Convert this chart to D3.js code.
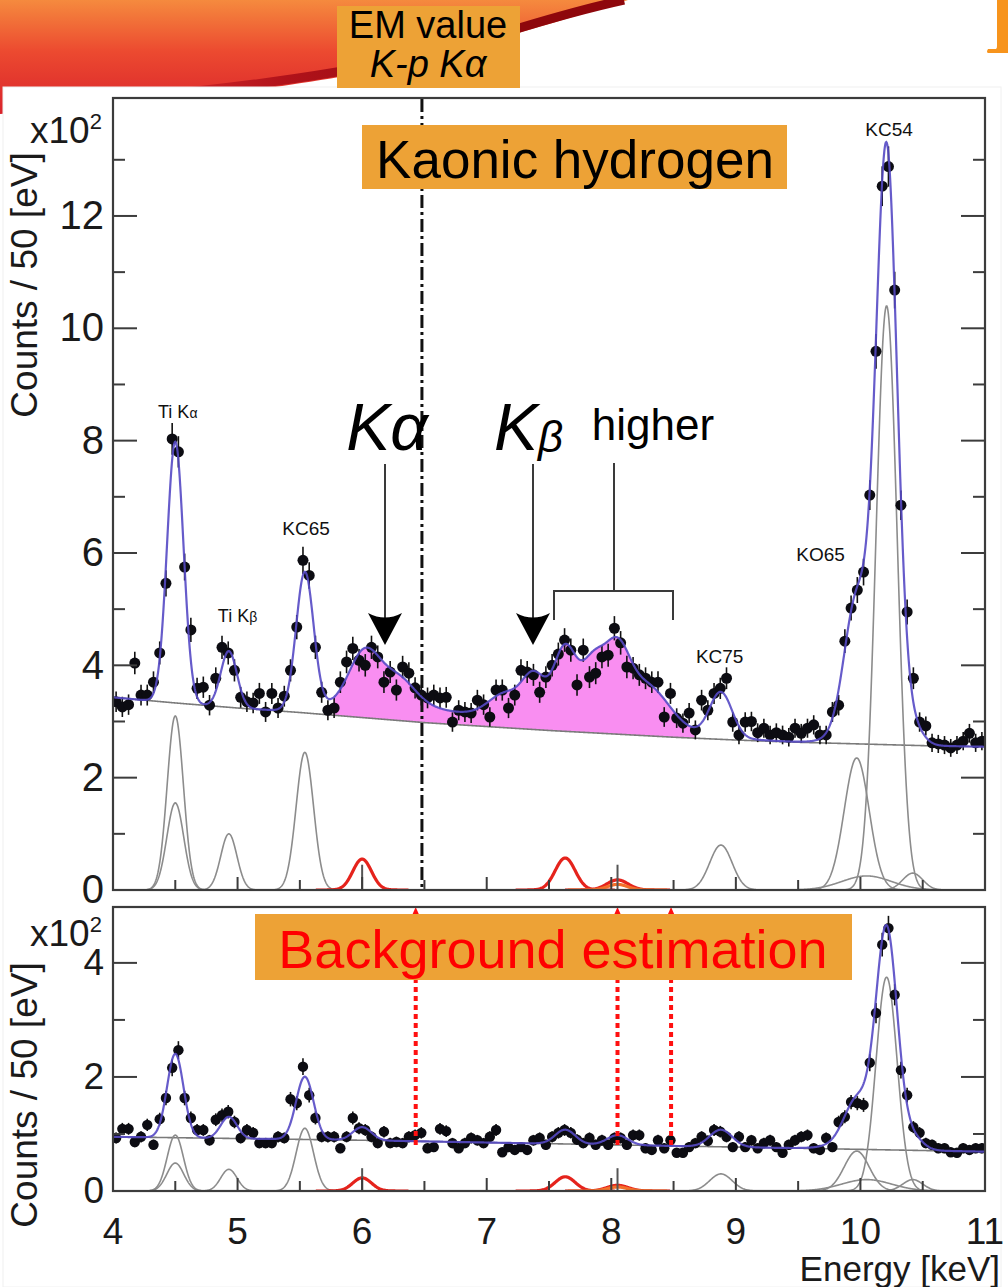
<!DOCTYPE html>
<html>
<head>
<meta charset="utf-8">
<script src="https://cdn.jsdelivr.net/npm/d3@7"></script>
<style>
  body { margin: 0; background: #fff; }
  svg { display: block; }
  text { font-family: "Liberation Sans", Arial, Helvetica, sans-serif; }
</style>
</head>
<body>
<svg id="chart" width="1008" height="1287"></svg>
<script>
// ---------------- data (counts in units of 10^2 per 50 eV bin) ----------------
const energyDomain = [4, 11];
const xMajorTicks = [4, 5, 6, 7, 8, 9, 10, 11];
const xMinorTicks = [4.5, 5.5, 6.5, 7.5, 8.5, 9.5, 10.5];
const yUpperMajor = [0, 2, 4, 6, 8, 10, 12];
const yUpperMinor = [1, 3, 5, 7, 9, 11, 13];
const yLowerMajor = [0, 2, 4];
const yLowerMinor = [1, 3];

// 50 eV bins from 4.0 to 11.0 keV
const binCentres = d3.range(140).map(i => 4.025 + 0.05 * i);

const upperCounts = [
  3.35, 3.26, 3.30, 4.04, 3.47, 3.47, 3.70, 4.22, 5.46, 8.03,
  7.80, 5.75, 4.63, 3.59, 3.61, 3.29, 3.77, 4.32, 4.22, 3.91,
  3.43, 3.35, 3.33, 3.50, 3.17, 3.50, 3.24, 3.45, 3.91, 4.68,
  5.87, 5.60, 4.32, 3.52, 3.20, 3.24, 3.70, 4.06, 4.30, 4.09,
  4.00, 4.32, 4.15, 3.70, 3.88, 3.56, 3.97, 3.86, 3.60, 3.47,
  3.42, 3.47, 3.42, 3.43, 2.99, 3.20, 3.17, 3.15, 3.38, 3.30,
  3.08, 3.56, 3.56, 3.24, 3.47, 3.91, 3.88, 3.83, 3.52, 3.79,
  4.00, 4.20, 4.45, 4.27, 3.65, 4.27, 3.79, 3.86, 4.15, 4.18,
  4.66, 4.40, 3.97, 3.95, 3.83, 3.77, 3.70, 3.70, 3.08, 3.50,
  3.06, 2.97, 3.15, 2.85, 3.38, 3.20, 3.50, 3.59, 3.77, 2.99,
  2.76, 2.99, 3.00, 2.80, 2.88, 2.76, 2.80, 2.76, 2.72, 2.88,
  2.79, 2.88, 2.94, 2.76, 2.76, 3.17, 3.29, 4.43, 5.02, 5.34,
  5.66, 7.03, 9.59, 12.53, 12.88, 10.68, 6.85, 4.95, 3.77, 2.99,
  2.92, 2.62, 2.60, 2.58, 2.53, 2.58, 2.65, 2.79, 2.62, 2.65
];

const lowerCounts = [
  0.93, 1.09, 1.09, 0.86, 0.95, 1.16, 0.81, 1.26, 1.63, 2.16,
  2.47, 1.63, 1.28, 1.07, 1.07, 0.89, 1.25, 1.33, 1.39, 1.21,
  0.93, 1.07, 1.02, 0.84, 0.84, 0.84, 0.95, 0.93, 1.61, 1.54,
  2.18, 1.68, 1.28, 0.95, 0.95, 0.95, 0.75, 0.95, 1.28, 1.10,
  1.07, 0.95, 0.84, 1.04, 0.84, 0.86, 0.84, 0.95, 0.98, 1.02,
  0.75, 0.77, 1.09, 1.05, 0.84, 0.75, 0.84, 0.93, 0.89, 0.84,
  0.95, 1.07, 0.68, 0.77, 0.72, 0.77, 0.72, 0.89, 0.93, 0.81,
  0.95, 1.02, 1.07, 1.02, 0.90, 0.84, 0.93, 0.81, 0.89, 0.81,
  0.93, 0.93, 0.81, 0.98, 0.98, 0.75, 0.72, 0.89, 0.75, 0.89,
  0.67, 0.67, 0.77, 0.84, 0.95, 0.88, 1.07, 1.04, 0.95, 0.77,
  0.95, 0.77, 0.89, 0.75, 0.84, 0.89, 0.77, 0.67, 0.81, 0.89,
  0.95, 0.98, 0.75, 0.72, 0.93, 0.77, 1.21, 1.30, 1.56, 1.54,
  1.51, 2.25, 3.12, 4.32, 4.61, 3.44, 2.12, 1.68, 1.12, 1.02,
  0.84, 0.81, 0.75, 0.75, 0.68, 0.67, 0.75, 0.72, 0.75, 0.75
];

// continuum background
const bgUpperE = [4, 4.5, 5, 5.5, 6, 6.5, 7, 7.5, 8, 8.5, 9, 9.5, 10, 10.5, 11];
const bgUpperY = [3.43, 3.33, 3.24, 3.16, 3.07, 2.98, 2.91, 2.84, 2.78, 2.72, 2.67, 2.63, 2.60, 2.57, 2.55];
const bgLowerE = [4, 5, 6, 7, 8, 9, 10, 11];
const bgLowerY = [0.95, 0.92, 0.89, 0.85, 0.81, 0.77, 0.73, 0.69];

// calibration / kaonic lines: Ti Ka (two parts), Ti Kb, KC65, KC75, KO65, KC54, KC54 tail, 10.4 keV
const greyCentre = [4.50, 4.50, 4.93, 5.54, 8.88, 9.97, 10.21, 10.05, 10.42];
const greySigma = [0.065, 0.068, 0.065, 0.070, 0.090, 0.100, 0.085, 0.200, 0.080];
const greyUpperHeight = [3.10, 1.55, 1.00, 2.45, 0.80, 2.35, 10.40, 0.25, 0.30];
const greyLowerHeight = [0.98, 0.49, 0.38, 1.10, 0.30, 0.70, 3.75, 0.20, 0.20];

// K-p lines
const kpCentre = [6.00, 7.63, 8.05, 8.05];
const kpSigma = [0.075, 0.080, 0.085, 0.080];
const kpUpperHeight = [0.55, 0.57, 0.18, 0.10];
const kpLowerHeight = [0.23, 0.25, 0.10, 0.07];
const kpColour = ["#e5231c", "#e5231c", "#e5231c", "#f3702a"];

// K-p yield inside the signal region of the kaonic hydrogen fit
const kpFitCentre = [6.02, 6.15, 6.30, 7.15, 7.38, 7.50, 7.63, 7.85, 8.04, 8.28];
const kpFitHeight = [0.78, 0.45, 0.30, 0.35, 0.65, 0.30, 1.20, 0.90, 1.10, 0.75];
const kpFitSigma = [0.12, 0.30, 0.12, 0.13, 0.09, 0.70, 0.09, 0.09, 0.10, 0.18];
const signalRange = [5.77, 8.67];

const lineMarkers = [6.00, 8.05];
const emEnergy = 6.48;
const bgEstimateMarkers = [6.43, 8.05, 8.48];

const upperLabels = [
  { t: "KC65", e: 5.55, v: 6.32 },
  { t: "KC75", e: 8.87, v: 4.05 },
  { t: "KO65", e: 9.68, v: 5.85 },
  { t: "KC54", e: 10.23, v: 13.42 }
];

// ---------------- scales ----------------
const svg = d3.select("#chart");
const x = d3.scaleLinear().domain(energyDomain).range([113, 985]);
const yU = d3.scaleLinear().domain([0, 14.1]).range([890, 98]);
const yL = d3.scaleLinear().domain([0, 4.98]).range([1191, 907]);

const bgU = d3.scaleLinear().domain(bgUpperE).range(bgUpperY);
const bgL = d3.scaleLinear().domain(bgLowerE).range(bgLowerY);

const gauss = (e, c, h, s) => h * Math.exp(-((e - c) ** 2) / (2 * s * s));
const sumLines = (e, cs, hs, ss) => d3.sum(cs, (c, i) => gauss(e, c, hs[i], ss[i]));

const fitU = e => bgU(e) + sumLines(e, greyCentre, greyUpperHeight, greySigma)
                          + sumLines(e, kpFitCentre, kpFitHeight, kpFitSigma);
const fitL = e => bgL(e) + sumLines(e, greyCentre, greyLowerHeight, greySigma)
                          + sumLines(e, kpCentre, kpLowerHeight, kpSigma);

const grid = d3.range(4, 11.0001, 0.004);

// ---------------- slide decoration ----------------
const defs = svg.append("defs");
const sg = defs.append("linearGradient").attr("id", "swoosh")
  .attr("x1", 0).attr("y1", 0).attr("x2", 0).attr("y2", 1);
sg.append("stop").attr("offset", "0%").attr("stop-color", "#f58a3e");
sg.append("stop").attr("offset", "45%").attr("stop-color", "#ec4a30");
sg.append("stop").attr("offset", "100%").attr("stop-color", "#d9232b");
const eg = defs.append("linearGradient").attr("id", "swooshEdge")
  .attr("gradientUnits", "userSpaceOnUse").attr("x1", 0).attr("y1", 0).attr("x2", 520).attr("y2", 0);
eg.append("stop").attr("offset", "0%").attr("stop-color", "#d4222a").attr("stop-opacity", 0);
eg.append("stop").attr("offset", "55%").attr("stop-color", "#b0121a");
eg.append("stop").attr("offset", "100%").attr("stop-color", "#8e070c");

svg.append("path")
  .attr("d", "M0,0 H628 C595,11 548,24 505,37 C430,62 300,94 0,114 Z")
  .attr("fill", "url(#swoosh)");
svg.append("path")
  .attr("d", "M0,108 C300,88 430,57 503,33 C545,20 592,7 624,0")
  .attr("fill", "none").attr("stroke", "url(#swooshEdge)").attr("stroke-width", 9);

// top-right bracket
svg.append("path")
  .attr("d", "M997,0 H1008 V53 H988 Q986,52 988,49 H996 Q997,49 997,46 Z")
  .attr("fill", "#f7941d");

// chart sheet
svg.append("rect").attr("x", 3).attr("y", 87).attr("width", 998).attr("height", 1200)
  .attr("fill", "#fff").attr("stroke", "#f0f0f0");

// ---------------- panels ----------------
function clip(id, y0, y1) {
  defs.append("clipPath").attr("id", id).append("rect")
    .attr("x", 113).attr("y", y0).attr("width", 872).attr("height", y1 - y0);
}
clip("clipU", 98, 890);
clip("clipL", 907, 1191);

function components(g, y, heights, sigma, centres, colour, width) {
  centres.forEach((c, i) => {
    const pts = grid.filter(e => Math.abs(e - c) < 5 * sigma[i]);
    g.append("path")
      .datum(pts)
      .attr("fill", "none")
      .attr("stroke", Array.isArray(colour) ? colour[i] : colour)
      .attr("stroke-width", width)
      .attr("d", d3.line().x(e => x(e)).y(e => y(gauss(e, c, heights[i], sigma[i]))));
  });
}

function dataPoints(g, y, counts, radius) {
  const pts = binCentres.map((e, i) => ({ e, v: counts[i] }));
  g.append("g").selectAll("line").data(pts).join("line")
    .attr("x1", d => x(d.e)).attr("x2", d => x(d.e))
    .attr("y1", d => y(d.v + Math.sqrt(d.v) / 10))
    .attr("y2", d => y(d.v - Math.sqrt(d.v) / 10))
    .attr("stroke", "#111").attr("stroke-width", 1.6);
  g.append("g").selectAll("circle").data(pts).join("circle")
    .attr("cx", d => x(d.e)).attr("cy", d => y(d.v)).attr("r", radius)
    .attr("fill", "#0c0c12");
}

function frame(y, top, bottom, yMajor, yMinor) {
  const g = svg.append("g").attr("stroke", "#3c3c3c");
  yMajor.forEach(v => {
    g.append("line").attr("x1", 113).attr("x2", 137).attr("y1", y(v)).attr("y2", y(v)).attr("stroke-width", 2);
    g.append("line").attr("x1", 961).attr("x2", 985).attr("y1", y(v)).attr("y2", y(v)).attr("stroke-width", 2);
  });
  yMinor.forEach(v => {
    g.append("line").attr("x1", 113).attr("x2", 125).attr("y1", y(v)).attr("y2", y(v)).attr("stroke-width", 2);
    g.append("line").attr("x1", 973).attr("x2", 985).attr("y1", y(v)).attr("y2", y(v)).attr("stroke-width", 2);
  });
  xMajorTicks.forEach(e => g.append("line").attr("x1", x(e)).attr("x2", x(e))
    .attr("y1", bottom).attr("y2", bottom - 13).attr("stroke-width", 2));
  xMinorTicks.forEach(e => g.append("line").attr("x1", x(e)).attr("x2", x(e))
    .attr("y1", bottom).attr("y2", bottom - 10).attr("stroke-width", 2));
  g.append("rect").attr("x", 113).attr("y", top).attr("width", 872).attr("height", bottom - top)
    .attr("fill", "none").attr("stroke-width", 2.2);
}

function yAxisText(y, labels, size, titleY, expY) {
  labels.forEach(v => svg.append("text").attr("x", 104).attr("y", y(v) + size * 0.33)
    .attr("text-anchor", "end").attr("font-size", size).attr("fill", "#1a1a1a").text(v));
  svg.append("text")
    .attr("transform", `translate(37,${titleY}) rotate(-90)`)
    .attr("text-anchor", "middle").attr("font-size", 37).attr("fill", "#1a1a1a")
    .text("Counts / 50 [eV]");
  const t = svg.append("text").attr("x", 30).attr("y", expY).attr("font-size", 37).attr("fill", "#1a1a1a");
  t.append("tspan").text("x10");
  t.append("tspan").attr("font-size", 22).attr("dy", -14).text("2");
}

// ---- upper panel: kaonic hydrogen ----
const gu = svg.append("g").attr("clip-path", "url(#clipU)");
const signalGrid = grid.filter(e => e >= signalRange[0] && e <= signalRange[1]);
gu.append("path").datum(signalGrid)
  .attr("fill", "#f98ef1")
  .attr("d", d3.area().x(e => x(e)).y0(e => yU(bgU(e))).y1(e => yU(fitU(e))));
gu.append("path").datum(grid).attr("fill", "none").attr("stroke", "#7a7a7a").attr("stroke-width", 1.6)
  .attr("d", d3.line().x(e => x(e)).y(e => yU(bgU(e))));
components(gu, yU, greyUpperHeight, greySigma, greyCentre, "#8c8c8c", 1.6);
components(gu, yU, kpUpperHeight, kpSigma, kpCentre, kpColour, 3.2);
lineMarkers.forEach(e => gu.append("line").attr("x1", x(e)).attr("x2", x(e))
  .attr("y1", yU(0)).attr("y2", yU(0.45)).attr("stroke", "#555").attr("stroke-width", 2));
dataPoints(gu, yU, upperCounts, 5.5);
gu.append("path").datum(grid).attr("fill", "none").attr("stroke", "#5549c4")
  .attr("stroke-width", 2.2).attr("stroke-opacity", 0.9)
  .attr("d", d3.line().x(e => x(e)).y(e => yU(fitU(e))));
svg.append("line").attr("x1", x(emEnergy)).attr("x2", x(emEnergy)).attr("y1", 99).attr("y2", 890)
  .attr("stroke", "#111").attr("stroke-width", 3).attr("stroke-dasharray", "13,4,3,4");
frame(yU, 98, 890, yUpperMajor, yUpperMinor);
yAxisText(yU, yUpperMajor, 40, 285, 143);

// ---- lower panel: background estimation ----
const gl = svg.append("g").attr("clip-path", "url(#clipL)");
gl.append("path").datum(grid).attr("fill", "none").attr("stroke", "#7a7a7a").attr("stroke-width", 1.6)
  .attr("d", d3.line().x(e => x(e)).y(e => yL(bgL(e))));
components(gl, yL, greyLowerHeight, greySigma, greyCentre, "#8c8c8c", 1.6);
components(gl, yL, kpLowerHeight, kpSigma, kpCentre, kpColour, 3.2);
lineMarkers.forEach(e => gl.append("line").attr("x1", x(e)).attr("x2", x(e))
  .attr("y1", yL(0)).attr("y2", yL(0.4)).attr("stroke", "#555").attr("stroke-width", 2));
dataPoints(gl, yL, lowerCounts, 5.2);
gl.append("path").datum(grid).attr("fill", "none").attr("stroke", "#5549c4")
  .attr("stroke-width", 2.2).attr("stroke-opacity", 0.9)
  .attr("d", d3.line().x(e => x(e)).y(e => yL(fitL(e))));
bgEstimateMarkers.forEach(e => {
  svg.append("line").attr("x1", x(e)).attr("x2", x(e)).attr("y1", 915).attr("y2", 1148)
    .attr("stroke", "#ff1010").attr("stroke-width", 4).attr("stroke-dasharray", "5,4");
  svg.append("path").attr("d", `M${x(e) - 3.5},915 L${x(e)},907 L${x(e) + 3.5},915 Z`).attr("fill", "#ff1010");
});
frame(yL, 907, 1191, yLowerMajor, yLowerMinor);
yAxisText(yL, yLowerMajor, 37, 1095, 946);

xMajorTicks.forEach(e => svg.append("text").attr("x", x(e)).attr("y", 1244)
  .attr("text-anchor", "middle").attr("font-size", 37).attr("fill", "#1a1a1a").text(e));
svg.append("text").attr("x", 1000).attr("y", 1281).attr("text-anchor", "end")
  .attr("font-size", 35).attr("fill", "#1a1a1a").text("Energy [keV]");

// ---------------- annotations ----------------
const small = (xx, yy, main, greek) => {
  const el = svg.append("text").attr("x", xx).attr("y", yy).attr("text-anchor", "middle")
    .attr("font-size", 18).attr("fill", "#111");
  el.append("tspan").text(main);
  el.append("tspan").attr("font-size", 14).text(greek);
};
small(x(4.52), 418, "Ti K", "α");
small(x(5.0), 622, "Ti K", "β");
upperLabels.forEach(d => svg.append("text").attr("x", x(d.e)).attr("y", yU(d.v))
  .attr("text-anchor", "middle").attr("font-size", 19).attr("fill", "#111").text(d.t));

// big line labels
svg.append("text").attr("x", 387).attr("y", 450).attr("text-anchor", "middle")
  .attr("font-size", 66).attr("font-style", "italic").attr("fill", "#000").text("Kα");
const kb = svg.append("text").attr("x", 494).attr("y", 450)
  .attr("font-size", 66).attr("font-style", "italic").attr("fill", "#000");
kb.append("tspan").text("K");
kb.append("tspan").attr("font-size", 44).attr("dy", 2).text("β");
svg.append("text").attr("x", 653).attr("y", 440).attr("text-anchor", "middle")
  .attr("font-size", 44).attr("fill", "#000").text("higher");

// arrows and bracket
const arrow = xx => {
  svg.append("line").attr("x1", xx).attr("x2", xx).attr("y1", 464).attr("y2", 625)
    .attr("stroke", "#3a3a3a").attr("stroke-width", 2);
  svg.append("path")
    .attr("d", `M${xx},645 L${xx - 17},613 Q${xx},622 ${xx + 17},613 Z`)
    .attr("fill", "#000");
};
arrow(385);
arrow(533);
svg.append("path").attr("d", "M614,463 V591 M554,620 V591 H673 V620")
  .attr("fill", "none").attr("stroke", "#3a3a3a").attr("stroke-width", 2);

// orange caption boxes
const box = (bx, by, bw, bh) => svg.append("rect").attr("x", bx).attr("y", by)
  .attr("width", bw).attr("height", bh).attr("fill", "#eda236");
box(337, 6, 183, 82);
svg.append("text").attr("x", 428).attr("y", 38).attr("text-anchor", "middle")
  .attr("font-size", 38).attr("fill", "#000").text("EM value");
svg.append("text").attr("x", 428).attr("y", 77).attr("text-anchor", "middle")
  .attr("font-size", 38).attr("font-style", "italic").attr("fill", "#000").text("K-p Kα");

box(362, 125, 425, 64);
svg.append("text").attr("x", 575).attr("y", 178).attr("text-anchor", "middle")
  .attr("font-size", 53).attr("fill", "#000").text("Kaonic hydrogen");

box(255, 914, 597, 66);
svg.append("text").attr("x", 553).attr("y", 968).attr("text-anchor", "middle")
  .attr("font-size", 54).attr("fill", "#ff0000").text("Background estimation");
</script>
</body>
</html>
